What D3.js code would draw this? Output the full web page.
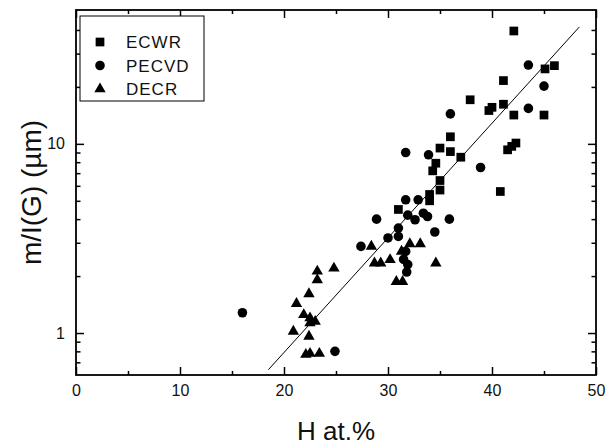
<!DOCTYPE html>
<html>
<head>
<meta charset="utf-8">
<script src="https://cdn.jsdelivr.net/npm/d3@7.9.0/dist/d3.min.js"></script>
<style>
  body { margin: 0; background: #fff; }
  svg { display: block; font-family: "Liberation Sans", Arial, sans-serif; }
  .tick text { font-size: 16px; fill: #111; }
</style>
</head>
<body>
<svg id="chart" width="606" height="446"></svg>
<script>
// --- data ---
const ecwrX = [42.1, 45.1, 46.0, 41.1, 37.9, 39.7, 40.0, 41.1, 42.1, 45.0, 36.0, 35.0, 36.0, 37.0, 41.5, 41.9, 42.3, 40.8, 34.6, 34.3, 35.0, 35.0, 34.0, 34.0, 31.0];
const ecwrY = [39.5, 24.9, 25.9, 21.6, 17.1, 15.0, 15.6, 16.2, 14.2, 14.2, 10.9, 9.5, 9.1, 8.5, 9.3, 9.7, 10.1, 5.6, 7.9, 7.2, 6.4, 5.7, 5.4, 5.0, 4.5];

const pecvdX = [43.5, 45.0, 43.5, 36.0, 38.9, 31.7, 33.9, 31.7, 32.9, 28.9, 31.9, 32.6, 33.4, 33.8, 35.9, 31.0, 31.0, 34.5, 30.0, 27.4, 31.7, 31.5, 31.9, 31.8, 16.0, 24.9];
const pecvdY = [26.1, 20.2, 15.4, 14.4, 7.5, 9.0, 8.75, 5.06, 5.06, 4.0, 4.2, 3.97, 4.3, 4.13, 4.0, 3.59, 3.24, 3.42, 3.18, 2.87, 2.7, 2.45, 2.3, 2.1, 1.28, 0.8];

const decrX = [28.4, 28.7, 29.3, 30.2, 31.3, 32.1, 33.1, 34.6, 24.8, 23.2, 23.2, 22.4, 21.2, 21.9, 22.5, 23.0, 22.5, 20.9, 22.4, 22.1, 22.5, 23.4, 30.8, 31.4];
const decrY = [2.87, 2.34, 2.34, 2.44, 2.7, 2.96, 2.96, 2.34, 2.2, 2.12, 1.91, 1.61, 1.43, 1.25, 1.2, 1.15, 1.13, 1.02, 0.96, 0.77, 0.78, 0.78, 1.87, 1.87];

// fitted line end points
const fitX = [18.5, 48.4];
const fitY = [0.64, 41.5];

const seriesNames = ["ECWR", "PECVD", "DECR"];
const xMajor = [0, 10, 20, 30, 40, 50];
const xMinor = [5, 15, 25, 35, 45];
const yMajor = [1, 10];
const yMinor = [0.7, 0.8, 0.9, 2, 3, 4, 5, 6, 7, 8, 9, 20, 30, 40];

const xTitle = "H at.%";
const yTitle = "m/I(G) (\u00b5m)";

// --- layout ---
const plotLeft = 76, plotRight = 596, plotTop = 10, plotBottom = 375;

const svg = d3.select("#chart");
const x = d3.scaleLinear().domain([0, 50]).range([plotLeft, plotRight]);
const y = d3.scaleLog().domain([0.6, 51]).range([plotBottom, plotTop]);

// axes: ticks point inward
function axisGroup(axis, tx, ty) {
  const g = svg.append("g").attr("transform", `translate(${tx},${ty})`).call(axis);
  g.select(".domain").remove();
  g.selectAll(".tick line").attr("stroke", "#000").attr("stroke-width", 1.5);
  return g;
}

axisGroup(d3.axisBottom(x).tickValues(xMajor).tickSize(-8).tickPadding(10).tickFormat(d3.format("d")), 0, plotBottom);
axisGroup(d3.axisBottom(x).tickValues(xMinor).tickSize(-4).tickFormat(""), 0, plotBottom);
axisGroup(d3.axisTop(x).tickValues(xMajor).tickSize(-8).tickFormat(""), 0, plotTop);
axisGroup(d3.axisTop(x).tickValues(xMinor).tickSize(-4).tickFormat(""), 0, plotTop);

axisGroup(d3.axisLeft(y).tickValues(yMajor).tickSize(-8).tickPadding(11).tickFormat(d3.format("d")), plotLeft, 0);
axisGroup(d3.axisLeft(y).tickValues(yMinor).tickSize(-4.5).tickFormat(""), plotLeft, 0);
axisGroup(d3.axisRight(y).tickValues(yMajor).tickSize(-8).tickFormat(""), plotRight, 0);
axisGroup(d3.axisRight(y).tickValues(yMinor).tickSize(-4.5).tickFormat(""), plotRight, 0);

// frame
svg.append("rect")
  .attr("x", plotLeft).attr("y", plotTop)
  .attr("width", plotRight - plotLeft).attr("height", plotBottom - plotTop)
  .attr("fill", "none").attr("stroke", "#000").attr("stroke-width", 1.8);

// fitted line
svg.append("line")
  .attr("x1", x(fitX[0])).attr("y1", y(fitY[0]))
  .attr("x2", x(fitX[1])).attr("y2", y(fitY[1]))
  .attr("stroke", "#000").attr("stroke-width", 1);

// points
const symbols = [
  d3.symbol().type(d3.symbolSquare).size(76),
  d3.symbol().type(d3.symbolCircle).size(72),
  d3.symbol().type(d3.symbolTriangle).size(56)
];
const series = [
  d3.zip(ecwrX, ecwrY),
  d3.zip(pecvdX, pecvdY),
  d3.zip(decrX, decrY)
];

series.forEach((pts, i) => {
  svg.append("g")
    .selectAll("path")
    .data(pts)
    .join("path")
    .attr("d", symbols[i])
    .attr("transform", d => `translate(${x(d[0])},${y(d[1])})`)
    .attr("fill", "#000");
});

// legend
const legend = svg.append("g");
legend.append("rect")
  .attr("x", 80).attr("y", 16).attr("width", 124).attr("height", 85)
  .attr("fill", "#fff").attr("stroke", "#000").attr("stroke-width", 1);
const rows = legend.selectAll("g.row")
  .data(seriesNames)
  .join("g")
  .attr("class", "row")
  .attr("transform", (_, i) => `translate(0,${42 + i * 23.5})`);
rows.append("path")
  .attr("d", (_, i) => symbols[i]())
  .attr("transform", "translate(100,0)")
  .attr("fill", "#000");
rows.append("text")
  .attr("x", 126).attr("y", 0).attr("dy", "0.36em")
  .attr("font-size", 17).attr("letter-spacing", 1)
  .attr("fill", "#111")
  .text(d => d);

// axis titles
svg.append("text")
  .attr("x", (plotLeft + plotRight) / 2).attr("y", 440)
  .attr("text-anchor", "middle")
  .attr("font-size", 26).attr("fill", "#111")
  .text(xTitle);

svg.append("text")
  .attr("transform", `translate(41,${(plotTop + plotBottom) / 2}) rotate(-90)`)
  .attr("text-anchor", "middle")
  .attr("font-size", 28).attr("fill", "#111")
  .text(yTitle);
</script>
</body>
</html>
